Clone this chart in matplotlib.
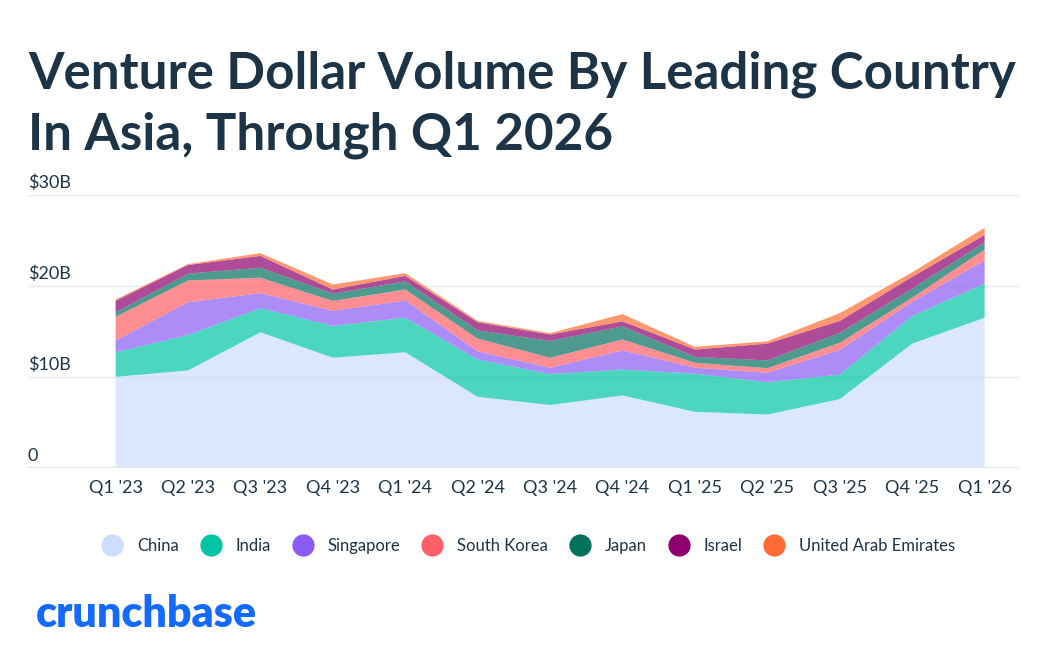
import numpy as np
import matplotlib.pyplot as plt
from matplotlib.lines import Line2D

quarters = ["Q1 '23", "Q2 '23", "Q3 '23", "Q4 '23", "Q1 '24", "Q2 '24", "Q3 '24",
            "Q4 '24", "Q1 '25", "Q2 '25", "Q3 '25", "Q4 '25", "Q1 '26"]
china = [10.0, 10.7, 14.9, 12.1, 12.7, 7.8, 6.9, 7.95, 6.15, 5.85, 7.55, 13.65, 16.5]
india = [2.7, 3.9, 2.65, 3.5, 3.8, 4.1, 3.4, 2.85, 4.2, 3.55, 2.7, 3.05, 3.75]
singapore = [1.3, 3.6, 1.65, 1.65, 1.9, 0.9, 0.7, 2.1, 0.65, 1.05, 2.7, 1.55, 2.55]
south_korea = [2.6, 2.4, 1.7, 1.1, 1.2, 1.4, 1.1, 1.2, 0.55, 0.5, 0.8, 0.45, 1.2]
japan = [0.5, 0.75, 1.1, 0.8, 0.9, 0.9, 1.85, 1.45, 0.65, 0.85, 1.1, 1.0, 0.8]
israel = [1.25, 0.95, 1.3, 0.45, 0.6, 0.9, 0.7, 0.55, 0.8, 1.85, 1.3, 1.3, 0.8]
uae = [0.15, 0.1, 0.3, 0.55, 0.3, 0.15, 0.15, 0.8, 0.3, 0.25, 0.85, 0.5, 0.8]

names = ["China", "India", "Singapore", "South Korea", "Japan", "Israel", "United Arab Emirates"]
colors = ["#CCDDFF", "#00C4A4", "#8B5CF6", "#FF5F66", "#04705E", "#8E006E", "#FF6B35"]
y_ticks = [0, 10, 20, 30]
y_labels = ["0", "$10B", "$20B", "$30B"]

plt.rcParams['font.family'] = ['Lato', 'DejaVu Sans']
text_col = "#1D3446"

fig = plt.figure(figsize=(10.48, 6.61), dpi=100)
ax = fig.add_axes([0.0267, 0.2924, 0.946, 0.4126])

x = np.arange(len(quarters))
ax.stackplot(x, china, india, singapore, south_korea, japan, israel, uae,
             colors=colors, alpha=0.7, linewidth=0)

ax.set_xlim(-1.21, 12.48)
ax.set_ylim(0, 30)
for s in ax.spines.values():
    s.set_visible(False)
for t in y_ticks[1:]:
    ax.axhline(t, color="#E6EAF0", lw=1, zorder=0)
ax.axhline(0, color="#E3E5E8", lw=1.5, zorder=3)

ax.set_yticks([])
for t, lab in zip(y_ticks, y_labels):
    ax.annotate(lab, (0, t), xycoords=("axes fraction", "data"), xytext=(0, 3),
                textcoords="offset points", ha="left", va="bottom",
                fontsize=13, color=text_col)

ax.set_xticks(x)
ax.set_xticklabels(quarters, fontsize=13, color=text_col)
ax.tick_params(axis="x", length=0, pad=9)

fig.text(0.027, 0.866, "Venture Dollar Volume By Leading Country", fontsize=36.8,
         fontweight="bold", color=text_col, va="baseline")
fig.text(0.027, 0.774, "In Asia, Through Q1 2026", fontsize=36.8,
         fontweight="bold", color=text_col, va="baseline")

handles = [Line2D([], [], ls="none", marker="o", markersize=16, markerfacecolor=c,
                  markeredgewidth=0) for c in colors]
fig.legend(handles, names, loc="center", bbox_to_anchor=(0.503, 0.174), ncol=7,
           frameon=False, fontsize=12, labelcolor=text_col, handletextpad=0.7,
           columnspacing=1.1, handlelength=1.6)

fig.text(0.034, 0.052, "crunchbase", fontsize=31, fontweight="heavy", color="#146AFF",
         va="baseline")

plt.savefig("out.png", dpi=100)
